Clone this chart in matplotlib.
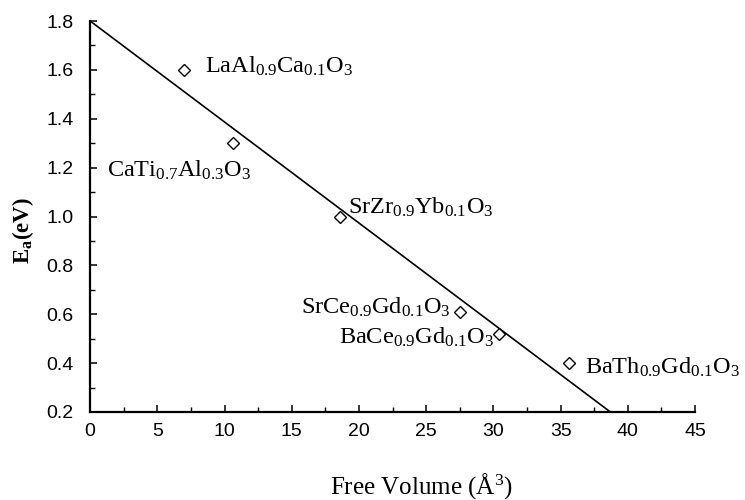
import numpy as np
import matplotlib
matplotlib.use("Agg")
import matplotlib.pyplot as plt
from matplotlib.ticker import MultipleLocator

plt.rcParams["mathtext.fontset"] = "custom"
plt.rcParams["mathtext.rm"] = "Liberation Serif"
plt.rcParams["mathtext.it"] = "Liberation Serif:italic"
plt.rcParams["mathtext.bf"] = "Liberation Serif:bold"

# free volume (A^3) vs activation energy (eV)
free_vol = [7.0, 10.6, 18.6, 27.5, 30.4, 35.6]
ea = [1.60, 1.30, 1.00, 0.61, 0.52, 0.40]
names = [r"LaAl$_{\mathrm{0.9}}$Ca$_{\mathrm{0.1}}$O$_{\mathrm{3}}$",
         r"CaTi$_{\mathrm{0.7}}$Al$_{\mathrm{0.3}}$O$_{\mathrm{3}}$",
         r"SrZr$_{\mathrm{0.9}}$Yb$_{\mathrm{0.1}}$O$_{\mathrm{3}}$",
         r"SrCe$_{\mathrm{0.9}}$Gd$_{\mathrm{0.1}}$O$_{\mathrm{3}}$",
         r"BaCe$_{\mathrm{0.9}}$Gd$_{\mathrm{0.1}}$O$_{\mathrm{3}}$",
         r"BaTh$_{\mathrm{0.9}}$Gd$_{\mathrm{0.1}}$O$_{\mathrm{3}}$"]
label_xy = [(8.56, 1.587), (1.26, 1.161), (19.2, 1.013), (26.8, 0.603), (30.06, 0.48), (36.8, 0.357)]
label_ha = ["left", "left", "left", "right", "right", "left"]

# fitted line end points
fit_x = [0.0, 38.7]
fit_y = [1.8, 0.2]

fig = plt.figure(figsize=(7.45, 5.0), dpi=100)
ax = fig.add_axes([0.121, 0.176, 0.812, 0.782])

ax.plot(fit_x, fit_y, color="black", lw=1.2)
ax.plot(free_vol, ea, "D", ms=6.5, mfc="white", mec="black", mew=1.0, ls="none")
for name, (tx, ty), ha in zip(names, label_xy, label_ha):
    ax.text(tx, ty, name, ha=ha, va="baseline", fontsize=17.5, family="Liberation Serif")

ax.set_xlim(0, 45)
ax.set_ylim(0.2, 1.8)
ax.xaxis.set_major_locator(MultipleLocator(5))
ax.xaxis.set_minor_locator(MultipleLocator(2.5))
ax.yaxis.set_major_locator(MultipleLocator(0.2))
ax.yaxis.set_minor_locator(MultipleLocator(0.1))
ax.set_yticks(ax.get_yticks())
ax.set_yticklabels([f"{v:.1f}" for v in ax.get_yticks()])
for s in ["top", "right"]:
    ax.spines[s].set_visible(False)
for s in ["left", "bottom"]:
    ax.spines[s].set_linewidth(1.6)
ax.tick_params(which="major", direction="in", length=5, width=1.1, labelsize=14)
ax.tick_params(axis="y", which="major", pad=12)
ax.tick_params(axis="x", which="major", pad=8)
ax.tick_params(which="minor", direction="in", length=3.5, width=1.0)
for lab in ax.get_xticklabels() + ax.get_yticklabels():
    lab.set_family("Liberation Sans")
ax.set_ylim(0.2, 1.8)

ax.set_xlabel(r"Free Volume ($\mathrm{\AA}^{\mathrm{3}}$)", family="Liberation Serif",
              fontsize=18, va="center", ha="center")
ax.xaxis.set_label_coords(0.547, -0.189)
ax.set_ylabel(r"E$_{\mathbf{a}}$(eV)", family="Liberation Serif", fontsize=16.5,
              fontweight="bold", va="center", ha="center")
ax.yaxis.set_label_coords(-0.111, 0.463)

fig.savefig("out.png", dpi=100)
